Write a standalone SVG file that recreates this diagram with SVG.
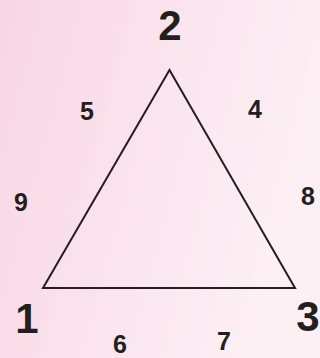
<svg xmlns="http://www.w3.org/2000/svg" width="320" height="358" viewBox="0 0 320 358">
<defs>
<linearGradient id="bg" x1="0" y1="0" x2="1" y2="0.3">
<stop offset="0" stop-color="#f8d6e4"/>
<stop offset="1" stop-color="#fdf0f5"/>
</linearGradient>
<style>
.big{font-family:"Liberation Sans",Arial,sans-serif;font-weight:bold;font-size:42px;fill:#231f20;text-anchor:middle}
.sm{font-family:"Liberation Sans",Arial,sans-serif;font-weight:bold;font-size:25px;fill:#231f20;text-anchor:middle}
.edge{fill:none;stroke:#231f20;stroke-width:2;stroke-linejoin:miter}
</style>
</defs>
<rect width="320" height="358" fill="url(#bg)"/>
<g id="connectors">
<polygon class="edge" points="169.5,70 43,288 295,288"/>
</g>
<g id="node-2"><text class="big" x="170" y="40">2</text></g>
<g id="node-1"><text class="big" x="27" y="333">1</text></g>
<g id="node-3"><text class="big" x="308" y="331">3</text></g>
<g id="label-5"><text class="sm" x="87" y="120">5</text></g>
<g id="label-4"><text class="sm" x="255" y="118">4</text></g>
<g id="label-9"><text class="sm" x="21" y="211">9</text></g>
<g id="label-8"><text class="sm" x="308" y="205">8</text></g>
<g id="label-6"><text class="sm" x="120" y="353">6</text></g>
<g id="label-7"><text class="sm" x="224" y="350">7</text></g>
</svg>
